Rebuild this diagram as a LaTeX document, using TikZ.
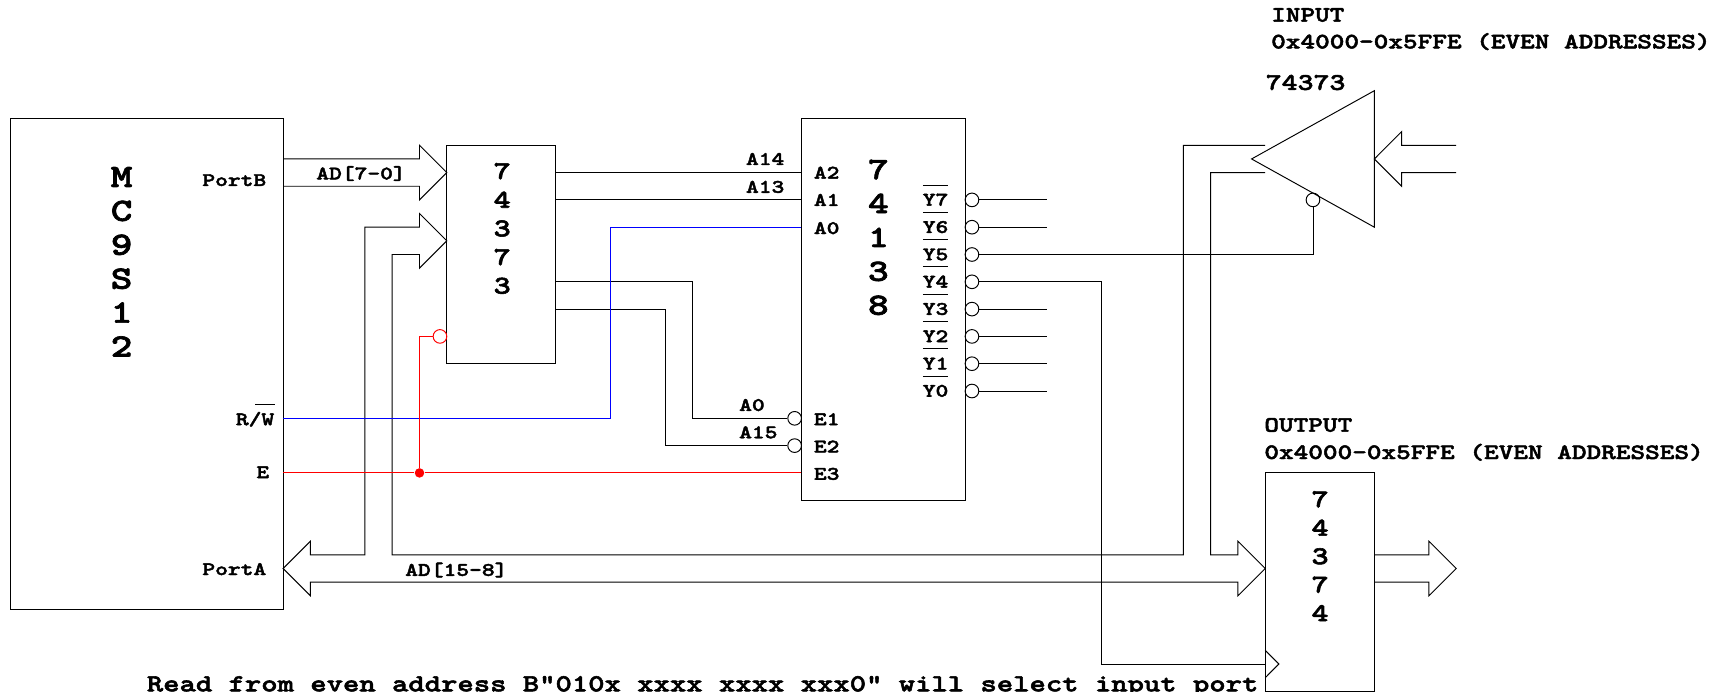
\documentclass[tikz,border=0pt]{standalone}
\usepackage{fontspec}
\setmonofont{lmmonolt10-bold.otf}[FakeStretch=1.27,FakeBold=2.2]
\newcommand{\ovl}[1]{$\overline{\mbox{\rule{0pt}{10.4pt}#1}}$}
\newcommand{\sizedfont}[2]{\fontsize{#1}{#2}\selectfont\ttfamily}
\tikzset{
  chipbox/.style={draw,rectangle,inner sep=0pt},
  chipname/.style={inner sep=0pt,align=center,anchor=north},
  pinname/.style={inner sep=0pt,font=\sizedfont{10.9}{14}},
  note/.style={inner sep=0pt,anchor=base west,align=left,font=\sizedfont{12.5}{15.1}},
  bubble/.style={draw,circle,inner sep=0pt,minimum size=0.273cm},
  junction/.style={fill=red,circle,inner sep=0pt,minimum size=0.19cm}
}
\begin{document}
\begin{tikzpicture}[x=0.5456cm,y=-0.546cm,line width=0.55pt]
\useasboundingbox (-0.377,-4.322) rectangle (63.0,20.99);

\node[chipbox,minimum width=5.456cm,minimum height=9.828cm] (mcu) at (5,9) {};
\node[chipbox,minimum width=2.1824cm,minimum height=4.368cm] (latchlow) at (18,5) {};
\node[chipbox,minimum width=3.2736cm,minimum height=7.644cm] (decoder) at (32,7) {};
\node[chipbox,minimum width=2.1824cm,minimum height=4.368cm] (outlatch) at (48,17) {};

\node[chipname,font=\sizedfont{18.5}{19.3}] (mcuname) at (4.08,1.78) {M\\C\\9\\S\\1\\2};
\node[chipname,font=\sizedfont{14.6}{16.3}] (latchlowname) at (18.03,1.63) {7\\4\\3\\7\\3};
\node[chipname,font=\sizedfont{17.6}{19.3}] (decodername) at (31.82,1.51) {7\\4\\1\\3\\8};
\node[chipname,font=\sizedfont{14.6}{16.2}] (outlatchname) at (48.01,13.65) {7\\4\\3\\7\\4};

\draw (10,1.5)--(15,1.5)--(15,1)--(16,2)--(15,3)--(15,2.5)--(10,2.5);
\draw (46,1)--(43,1)--(43,16)--(14,16)--(14,5)--(15,5)--(15,5.5)--(16,4.5)--(15,3.5)--(15,4)--(13,4)--(13,16)--(11,16)--(11,15.5)--(10,16.5)--(11,17.5)--(11,17)--(45,17)--(45,17.5)--(46,16.5)--(45,15.5)--(45,16)--(44,16)--(44,2)--(46,2);
\draw (50,16)--(52,16)--(52,15.5)--(53,16.5)--(52,17.5)--(52,17)--(50,17);
\draw (53,1)--(51,1)--(51,0.5)--(50,1.5)--(51,2.5)--(51,2)--(53,2);
\draw (50,-1)--(50,4)--(45.5,1.5)--cycle;
\draw (46,19.5)--(46.5,20)--(46,20.5);

\coordinate (q7) at (20,2);
\coordinate (q6) at (20,3);
\coordinate (q5) at (20,6);
\coordinate (q4) at (20,7);
\coordinate (a2) at (29,2);
\coordinate (a1) at (29,3);
\coordinate (a0) at (29,4);
\coordinate (e3) at (29,13);
\coordinate (rw) at (10,11);
\coordinate (en) at (10,13);
\coordinate (clk) at (46,20);

\node[bubble] (e1n) at (28.75,11) {};
\node[bubble] (e2n) at (28.75,12) {};
\node[bubble,draw=red] (oen) at (15.75,8) {};
\node[bubble] (y7n) at (35.25,3) {};
\node[bubble] (y6n) at (35.25,4) {};
\node[bubble] (y5n) at (35.25,5) {};
\node[bubble] (y4n) at (35.25,6) {};
\node[bubble] (y3n) at (35.25,7) {};
\node[bubble] (y2n) at (35.25,8) {};
\node[bubble] (y1n) at (35.25,9) {};
\node[bubble] (y0n) at (35.25,10) {};
\node[bubble] (gn) at (47.75,3) {};
\node[junction] (dot) at (15,13) {};

\coordinate (y7end) at (38,3);
\coordinate (y6end) at (38,4);
\coordinate (y3end) at (38,7);
\coordinate (y2end) at (38,8);
\coordinate (y1end) at (38,9);
\coordinate (y0end) at (38,10);

\draw (q7)--(a2);
\draw (q6)--(a1);
\draw (q5)--(25,6)--(25,11)--(e1n);
\draw (q4)--(24,7)--(24,12)--(e2n);
\draw[blue] (rw)--(22,11)--(22,4)--(a0);
\draw[red] (en)--(dot)--(e3);
\draw[red] (dot)--(15,8)--(oen);
\draw (y7n)--(y7end);
\draw (y6n)--(y6end);
\draw (y3n)--(y3end);
\draw (y2n)--(y2end);
\draw (y1n)--(y1end);
\draw (y0n)--(y0end);
\draw (y5n)--(47.75,5)--(gn);
\draw (y4n)--(40,6)--(40,20)--(clk);

\node[pinname,anchor=base east] (portb) at (9.4,2.49) {PortB};
\node[pinname,anchor=base east] (rwname) at (9.73,11.25) {R/\kern-3.5pt\ovl{\kern3.5pt W\kern0.6pt}};
\node[pinname,anchor=base east] (ename) at (9.51,13.19) {E};
\node[pinname,anchor=base east] (porta) at (9.4,16.74) {PortA};
\node[pinname,anchor=base west] (adlow) at (11.2,2.25) {AD[7-0]};
\node[pinname,anchor=base west] (adhigh) at (14.46,16.77) {AD[15-8]};
\node[pinname,anchor=base west] (a14) at (26.95,1.72) {A14};
\node[pinname,anchor=base west] (a13) at (26.95,2.74) {A13};
\node[pinname,anchor=base west] (a0low) at (26.7,10.73) {A0};
\node[pinname,anchor=base west] (a15) at (26.7,11.73) {A15};
\node[pinname,anchor=base west] (a2name) at (29.44,2.22) {A2};
\node[pinname,anchor=base west] (a1name) at (29.44,3.22) {A1};
\node[pinname,anchor=base west] (a0name) at (29.44,4.25) {A0};
\node[pinname,anchor=base west] (e1name) at (29.44,11.25) {E1};
\node[pinname,anchor=base west] (e2name) at (29.44,12.25) {E2};
\node[pinname,anchor=base west] (e3name) at (29.44,13.25) {E3};
\node[pinname,anchor=base west] (y7name) at (33.43,3.21) {\ovl{Y7}};
\node[pinname,anchor=base west] (y6name) at (33.43,4.21) {\ovl{Y6}};
\node[pinname,anchor=base west] (y5name) at (33.43,5.21) {\ovl{Y5}};
\node[pinname,anchor=base west] (y4name) at (33.43,6.21) {\ovl{Y4}};
\node[pinname,anchor=base west] (y3name) at (33.43,7.21) {\ovl{Y3}};
\node[pinname,anchor=base west] (y2name) at (33.43,8.21) {\ovl{Y2}};
\node[pinname,anchor=base west] (y1name) at (33.43,9.21) {\ovl{Y1}};
\node[pinname,anchor=base west] (y0name) at (33.43,10.21) {\ovl{Y0}};

\node[note] (inputname) at (46.2,-3.53) {INPUT};
\node[note] (inputaddr) at (46.2,-2.55) {0x4000-0x5FFE (EVEN ADDRESSES)};
\node[note,font=\sizedfont{13.6}{17}] (inputchip) at (46,-1.03) {74373};
\node[note] (outputname) at (45.95,11.49) {OUTPUT};
\node[note] (outputaddr) at (45.95,12.49) {0x4000-0x5FFE (EVEN ADDRESSES)};
\node[note,font=\sizedfont{13.95}{17}] (readnote) at (4.99,21.0) {Read from even address B"010x xxxx xxxx xxx0" will select input port};
\end{tikzpicture}
\end{document}
